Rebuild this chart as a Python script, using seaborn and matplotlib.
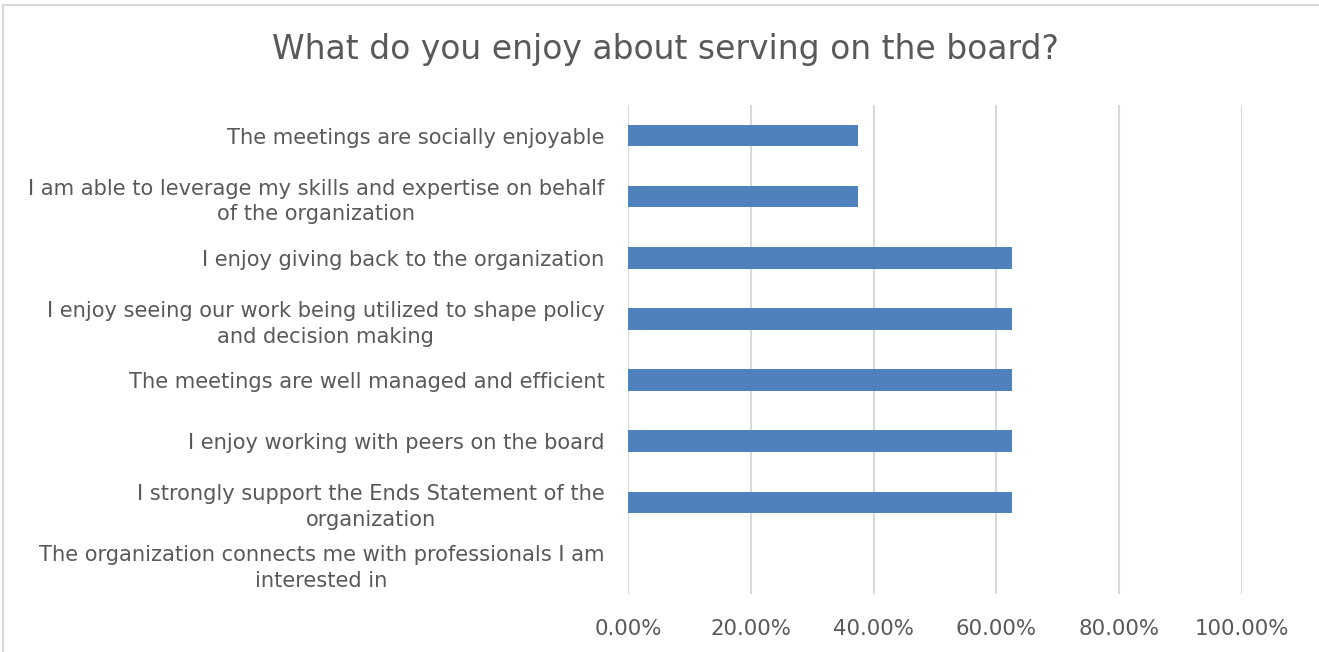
import matplotlib
matplotlib.use("Agg")
import matplotlib.pyplot as plt
import seaborn as sns
import pandas as pd
from matplotlib.ticker import FuncFormatter, MultipleLocator
from matplotlib.patches import Rectangle

categories = [
    "The meetings are socially enjoyable",
    "I am able to leverage my skills and expertise on behalf\nof the organization",
    "I enjoy giving back to the organization",
    "I enjoy seeing our work being utilized to shape policy\nand decision making",
    "The meetings are well managed and efficient",
    "I enjoy working with peers on the board",
    "I strongly support the Ends Statement of the\norganization",
    "The organization connects me with professionals I am\ninterested in",
]
values = [0.375, 0.375, 0.625, 0.625, 0.625, 0.625, 0.625, 0.0]
title = "What do you enjoy about serving on the board?"

sns.set_theme(style="white")
plt.rcParams['font.family'] = ['DejaVu Sans']

df = pd.DataFrame({"cat": categories, "val": values})

fig = plt.figure(figsize=(13.19, 6.52), dpi=100)
ax = fig.add_axes([628/1319, 1-594/652, (1242-628)/1319, (594-105)/652])

sns.barplot(data=df, x="val", y="cat", orient="h", color="#4F81BD",
            width=0.35, saturation=1, linewidth=0, ax=ax, zorder=3)

ax.set_xlim(0, 1.0)
ax.set_ylim(len(categories)-0.5, -0.5)
ax.xaxis.set_major_locator(MultipleLocator(0.2))
ax.xaxis.set_major_formatter(FuncFormatter(lambda v, p: f"{v*100:.2f}%"))
ax.grid(axis="x", color="#D9D9D9", linewidth=1.5, zorder=0)
ax.grid(axis="y", visible=False)
for s in ax.spines.values():
    s.set_visible(False)
ax.set_xlabel("")
ax.set_ylabel("")
ax.tick_params(axis="x", length=0, pad=18, labelsize=15.3, labelcolor="#595959")
ax.tick_params(axis="y", length=0, pad=17, labelsize=15.1, labelcolor="#595959")
for lab in ax.get_yticklabels():
    lab.set_multialignment("center")
    lab.set_linespacing(1.35)

fig.text(665/1319, 1-50/652, title, ha="center", va="center",
         fontsize=23.8, color="#595959")

fig.patches.append(Rectangle((3/1319, -0.1), 1.2, 1-5/652+0.1, transform=fig.transFigure,
                             fill=False, edgecolor="#D9D9D9", linewidth=1.5))

fig.savefig("out.png", dpi=100)
